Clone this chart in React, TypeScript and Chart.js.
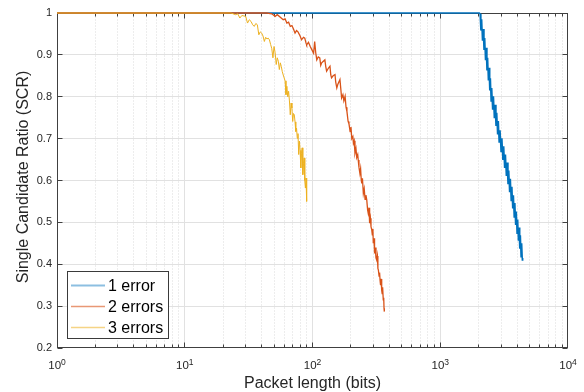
import React, { useEffect, useRef } from 'react';
import { Chart, registerables } from 'chart.js';

Chart.register(...registerables);

// ---- data ----
const SERIES_NAMES = ['1 error', '2 errors', '3 errors'];
const SERIES_COLORS = ['#0072BD', '#D95319', '#EDB120'];
const LEGEND_COLORS = ['rgba(0,114,189,0.45)', 'rgba(217,83,25,0.6)', 'rgba(237,177,32,0.55)'];

const LEN_1 = [1, 2022, 2050, 2080, 2110, 2140, 2170, 2200, 2230, 2260, 2290, 2320, 2350, 2380, 2410, 2440, 2470, 2500, 2530,
  2570, 2610, 2650, 2690, 2730, 2770, 2810, 2850, 2890, 2940,
  2990, 3040, 3090, 3140, 3190, 3240, 3290, 3340, 3390, 3440, 3490, 3540, 3590, 3640, 3690, 3740, 3790, 3840, 3890, 3940,
  3990, 4040, 4090, 4140, 4190, 4240, 4290, 4340, 4390, 4419];
const SCR_1 = [1, 1, 0.998, 0.958, 0.985, 0.934, 0.962, 0.912, 0.940, 0.887, 0.917, 0.863, 0.893, 0.839, 0.869, 0.815, 0.844, 0.790, 0.821,
  0.769, 0.801, 0.749, 0.781, 0.730, 0.762, 0.710, 0.742, 0.690, 0.720,
  0.669, 0.701, 0.649, 0.682, 0.630, 0.662, 0.611, 0.643, 0.591, 0.624, 0.572, 0.604, 0.552, 0.585, 0.533, 0.565, 0.513, 0.546, 0.494, 0.526,
  0.474, 0.507, 0.456, 0.488, 0.437, 0.469, 0.418, 0.450, 0.410, 0.415];

const LEN_2 = [1, 44, 48, 51, 53, 56, 59, 61, 63, 65, 67, 69, 71, 73, 75, 77, 80, 82, 85, 87, 89, 90, 93, 96, 99, 102, 104, 106, 108,
  111, 114, 116, 118, 121, 125, 127, 129, 133, 137, 139, 141, 145, 150, 152, 155, 158, 164, 167, 169, 173, 176, 180, 183, 186,
  190, 193, 197, 200, 203, 207, 209, 212, 215, 219, 222, 226, 228, 231, 235, 238, 241, 243, 246, 250, 254, 258, 262, 266, 270,
  273, 277, 280, 284, 287, 291, 294, 297, 299, 303, 306, 310, 314, 318, 322, 325, 328, 332, 335, 338, 341, 344, 348, 351, 354,
  358, 361, 363, 365];
const SCR_2 = [1, 1, 0.998, 0.992, 0.996, 0.990, 0.984, 0.986, 0.976, 0.978, 0.968, 0.970, 0.962, 0.952, 0.958, 0.955, 0.945, 0.936, 0.942, 0.940, 0.928, 0.924, 0.930, 0.920, 0.912, 0.904, 0.932, 0.905, 0.888,
  0.895, 0.893, 0.875, 0.881, 0.884, 0.888, 0.872, 0.861, 0.868, 0.873, 0.852, 0.845, 0.850, 0.853, 0.835, 0.821, 0.830, 0.841, 0.815, 0.797, 0.805, 0.790, 0.801, 0.775, 0.765,
  0.741, 0.735, 0.717, 0.728, 0.700, 0.705, 0.689, 0.695, 0.665, 0.676, 0.655, 0.662, 0.649, 0.632, 0.617, 0.628, 0.600, 0.593, 0.605, 0.569, 0.580, 0.555, 0.565, 0.553, 0.530,
  0.522, 0.535, 0.498, 0.510, 0.490, 0.482, 0.470, 0.485, 0.450, 0.462, 0.426, 0.440, 0.415, 0.410, 0.420, 0.390, 0.386, 0.372, 0.380, 0.362, 0.350, 0.365, 0.338, 0.330, 0.345,
  0.315, 0.320, 0.295, 0.287];

const LEN_3 = [1, 23, 25, 26, 27, 28, 30, 31, 32, 33, 34, 35, 36, 37, 38, 39, 40, 41, 42, 43, 44, 45, 46, 47, 48, 49, 50,
  51, 52, 53, 54, 55, 56, 57, 58, 59, 60, 61, 62, 63, 64, 65, 66, 67, 68, 69, 70, 71, 72, 73, 74, 75, 76, 77, 78, 79, 80,
  81, 82, 83, 84, 85, 86, 87, 88, 89, 90];
const SCR_3 = [1, 1, 0.996, 0.998, 0.988, 0.994, 0.992, 0.976, 0.984, 0.980, 0.972, 0.968, 0.975, 0.972, 0.948, 0.955, 0.952, 0.945, 0.932, 0.942, 0.938, 0.940, 0.936, 0.925, 0.915, 0.893, 0.920,
  0.905, 0.877, 0.893, 0.885, 0.865, 0.881, 0.872, 0.860, 0.852, 0.845, 0.838, 0.805, 0.825, 0.800, 0.813, 0.790, 0.757, 0.785, 0.773, 0.741, 0.760, 0.757, 0.740, 0.717, 0.725, 0.701, 0.712, 0.662, 0.694, 0.672,
  0.630, 0.665, 0.678, 0.614, 0.640, 0.654, 0.600, 0.582, 0.606, 0.550];

const Y_TICKS = [0.2, 0.3, 0.4, 0.5, 0.6, 0.7, 0.8, 0.9, 1];
const Y_TICK_LABELS = ['0.2', '0.3', '0.4', '0.5', '0.6', '0.7', '0.8', '0.9', '1'];
const X_TICK_EXPONENTS = [0, 1, 2, 3, 4];
const X_TITLE = 'Packet length (bits)';
const Y_TITLE = 'Single Candidate Ratio (SCR)';

const FONT = '"Liberation Sans", Arial, Helvetica, sans-serif';
const TEXT = '#262626';

function crisp(v: number) {
  return Math.floor(v) + 0.5;
}

const matlabAxes = {
  id: 'matlabAxes',
  beforeDatasetsDraw(chart: any) {
    const { ctx, chartArea, scales } = chart;
    const { left, right, top, bottom } = chartArea;
    const xs = scales.x;
    const ys = scales.y;
    const L = crisp(left), R = crisp(right) - 1, T = crisp(top), B = crisp(bottom) - 1;
    ctx.save();
    ctx.fillStyle = '#ffffff';
    ctx.fillRect(left, top, right - left, bottom - top);

    // minor x grid (dotted)
    ctx.lineWidth = 1;
    ctx.strokeStyle = 'rgba(38,38,38,0.17)';
    ctx.setLineDash([1, 2]);
    for (let d = 0; d < 4; d++) {
      for (let m = 2; m <= 9; m++) {
        const X = crisp(xs.getPixelForValue(m * Math.pow(10, d)));
        ctx.beginPath();
        ctx.moveTo(X, T);
        ctx.lineTo(X, B);
        ctx.stroke();
      }
    }
    ctx.setLineDash([]);
    // major grid
    ctx.strokeStyle = '#e1e1e1';
    for (const e of X_TICK_EXPONENTS) {
      if (e === 0 || e === 4) continue;
      const X = crisp(xs.getPixelForValue(Math.pow(10, e)));
      ctx.beginPath();
      ctx.moveTo(X, T);
      ctx.lineTo(X, B);
      ctx.stroke();
    }
    for (const v of Y_TICKS) {
      if (v === 0.2 || v === 1) continue;
      const Y = crisp(ys.getPixelForValue(v));
      ctx.beginPath();
      ctx.moveTo(L, Y);
      ctx.lineTo(R, Y);
      ctx.stroke();
    }

    // box
    ctx.strokeStyle = '#404040';
    ctx.strokeRect(L, T, R - L, B - T);

    // ticks (inward)
    ctx.beginPath();
    for (let d = 0; d < 4; d++) {
      for (let m = 1; m <= 9; m++) {
        const X = crisp(xs.getPixelForValue(m * Math.pow(10, d)));
        const len = m === 1 ? 5 : 3;
        ctx.moveTo(X, B); ctx.lineTo(X, B - len);
        ctx.moveTo(X, T); ctx.lineTo(X, T + len);
      }
    }
    for (const v of Y_TICKS) {
      const Y = crisp(ys.getPixelForValue(v));
      ctx.moveTo(L, Y); ctx.lineTo(L + 5, Y);
      ctx.moveTo(R, Y); ctx.lineTo(R - 5, Y);
    }
    ctx.stroke();

    // y tick labels
    ctx.fillStyle = TEXT;
    ctx.font = `11px ${FONT}`;
    ctx.textAlign = 'right';
    ctx.textBaseline = 'middle';
    Y_TICKS.forEach((v, i) => {
      ctx.fillText(Y_TICK_LABELS[i], left - 5, ys.getPixelForValue(v));
    });

    // x tick labels 10^e
    ctx.textAlign = 'left';
    ctx.textBaseline = 'alphabetic';
    for (const e of X_TICK_EXPONENTS) {
      const cx = xs.getPixelForValue(Math.pow(10, e));
      ctx.font = `11.5px ${FONT}`;
      const w1 = ctx.measureText('10').width;
      ctx.font = `8.5px ${FONT}`;
      const w2 = ctx.measureText(String(e)).width;
      const sx = cx - (w1 + w2) / 2;
      ctx.font = `11.5px ${FONT}`;
      ctx.fillText('10', sx, 368.5);
      ctx.font = `8.5px ${FONT}`;
      ctx.fillText(String(e), sx + w1, 364.5);
    }

    // axis titles
    ctx.font = `16px ${FONT}`;
    ctx.textAlign = 'center';
    ctx.textBaseline = 'alphabetic';
    ctx.fillText(X_TITLE, (left + right) / 2, 388);
    ctx.save();
    ctx.translate(28, 177);
    ctx.rotate(-Math.PI / 2);
    ctx.fillText(Y_TITLE, 0, 0);
    ctx.restore();
    ctx.restore();
  },
  afterDatasetsDraw(chart: any) {
    const { ctx } = chart;
    ctx.save();
    const bx = 67.5, by = 271.5, bw = 101, bh = 67;
    ctx.fillStyle = '#ffffff';
    ctx.fillRect(bx, by, bw, bh);
    ctx.strokeStyle = '#3a3a3a';
    ctx.lineWidth = 1;
    ctx.strokeRect(bx, by, bw, bh);
    ctx.font = `16px ${FONT}`;
    ctx.textAlign = 'left';
    ctx.textBaseline = 'alphabetic';
    SERIES_NAMES.forEach((name, i) => {
      const cy = 285.5 + i * 21;
      ctx.strokeStyle = LEGEND_COLORS[i];
      ctx.lineWidth = i === 0 ? 2 : 1.5;
      ctx.beginPath();
      ctx.moveTo(71, cy);
      ctx.lineTo(105, cy);
      ctx.stroke();
      ctx.fillStyle = '#000000';
      ctx.fillText(name, 108, cy + 5.5);
    });
    ctx.restore();
  },
};

function toPoints(xs: number[], ys: number[]) {
  return xs.map((x, i) => ({ x, y: ys[i] }));
}

const LINE_WIDTHS = [1.5, 1.3, 1];

export default function App() {
  const ref = useRef<HTMLCanvasElement | null>(null);
  useEffect(() => {
    if (!ref.current) return;
    const lens = [LEN_1, LEN_2, LEN_3];
    const scrs = [SCR_1, SCR_2, SCR_3];
    const chart = new Chart(ref.current, {
      type: 'line',
      data: {
        datasets: SERIES_NAMES.map((name, i) => ({
          label: name,
          data: toPoints(lens[i], scrs[i]),
          borderColor: SERIES_COLORS[i],
          backgroundColor: SERIES_COLORS[i],
          borderWidth: LINE_WIDTHS[i],
          pointRadius: 0,
          tension: 0,
          fill: false,
          clip: false as any,
          order: 3 - i,
        })),
      },
      options: {
        animation: false,
        responsive: false,
        devicePixelRatio: 1,
        layout: { padding: { left: 57, right: 16, top: 13, bottom: 44 } },
        plugins: { legend: { display: false }, tooltip: { enabled: false } },
        events: [],
        scales: {
          x: { type: 'logarithmic', min: 1, max: 10000, display: false },
          y: { type: 'linear', min: 0.2, max: 1, display: false },
        },
      },
      plugins: [matlabAxes],
    } as any);
    return () => chart.destroy();
  }, []);
  return (
    <div style={{ position: 'fixed', left: 0, top: 0, width: 584, height: 392, background: '#fff' }}>
      <canvas ref={ref} width={584} height={392} style={{ width: 584, height: 392, display: 'block' }} />
    </div>
  );
}
